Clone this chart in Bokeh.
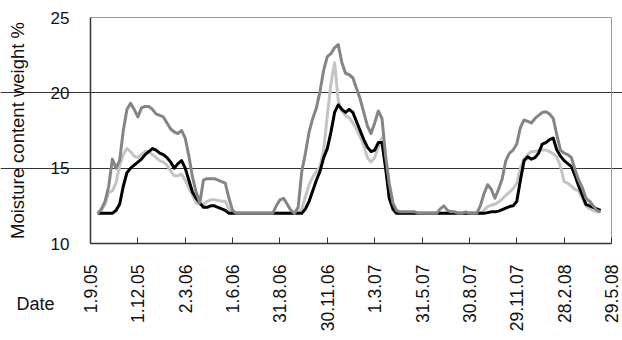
import math

import pandas as pd
from bokeh.embed import file_html
from bokeh.models import FixedTicker, Label
from bokeh.plotting import figure
from bokeh.resources import INLINE

FONT = "Liberation Sans"

# Weekly readings, first one on 15 Sep 2005
first_reading = "2005-09-15"

tick_dates = ["2005-09-01", "2005-12-01", "2006-03-02", "2006-06-01",
              "2006-08-31", "2006-11-30", "2007-03-01", "2007-05-31",
              "2007-08-30", "2007-11-29", "2008-02-28", "2008-05-29"]
tick_labels = ["1.9.05", "1.12.05", "2.3.06", "1.6.06", "31.8.06", "30.11.06",
               "1.3.07", "31.5.07", "30.8.07", "29.11.07", "28.2.08", "29.5.08"]
value_ticks = [10, 15, 20, 25]
grid_values = [15, 20]

series_black = [
    12.0, 12.0, 12.0, 12.0, 12.0, 12.2, 12.6, 13.8, 14.7, 15.0,
    15.2, 15.4, 15.6, 15.9, 16.1, 16.3, 16.2, 16.0, 15.9, 15.7,
    15.4, 15.0, 15.3, 15.5, 15.0, 14.2, 13.4, 13.0, 12.7, 12.4,
    12.4, 12.5, 12.5, 12.4, 12.3, 12.2, 12.0, 12.0, 12.0, 12.0,
    12.0, 12.0, 12.0, 12.0, 12.0, 12.0, 12.0, 12.0, 12.0, 12.0,
    12.0, 12.0, 12.0, 12.0, 12.0, 12.0, 12.0, 12.3, 12.8, 13.5,
    14.2, 14.8, 15.7, 16.3, 17.4, 18.7, 19.2, 18.9, 18.7, 18.9,
    18.7, 18.1, 17.5, 16.9, 16.4, 16.1, 16.2, 16.7, 16.7, 15.0,
    13.0, 12.3, 12.0, 12.0, 12.0, 12.0, 12.0, 12.0, 12.0, 12.0,
    12.0, 12.0, 12.0, 12.0, 12.0, 12.0, 12.0, 12.0, 12.0, 12.0,
    12.0, 12.0, 12.0, 12.0, 12.0, 12.0, 12.0, 12.05, 12.1, 12.1,
    12.15, 12.25, 12.35, 12.45, 12.5, 12.8, 14.2, 15.5, 15.75, 15.6,
    15.7, 16.0, 16.6, 16.7, 16.9, 17.0, 16.2, 15.8, 15.5, 15.3,
    15.1, 14.5, 13.8, 13.2, 12.6, 12.5, 12.4, 12.3, 12.2,
]

series_light = [
    12.0, 12.2, 12.6, 13.4, 13.5, 14.0, 15.2, 15.9, 16.3, 16.1,
    15.8, 15.7, 15.9, 16.1, 16.1, 15.9, 15.7, 15.5, 15.4, 15.2,
    14.8, 14.5, 14.5, 14.6, 14.2, 13.7, 13.2, 12.7, 12.6, 12.6,
    12.8, 12.9, 12.9, 12.85, 12.8, 12.8, 12.3, 12.0, 12.0, 12.0,
    12.0, 12.0, 12.0, 12.0, 12.0, 12.0, 12.0, 12.0, 12.0, 12.0,
    12.0, 12.0, 12.0, 12.0, 12.0, 12.0, 12.3, 13.1, 13.9, 14.4,
    14.8, 15.1, 16.2, 18.5, 20.6, 22.0, 19.5, 18.8, 18.5, 18.35,
    18.0, 17.6, 17.1, 16.5, 15.7, 15.4, 15.7, 16.4, 17.0, 15.2,
    13.1, 12.2, 12.0, 12.0, 12.0, 12.0, 12.0, 12.0, 12.0, 12.0,
    12.0, 12.0, 12.0, 12.0, 12.0, 12.0, 12.0, 12.0, 12.0, 12.0,
    12.0, 12.0, 12.0, 12.0, 12.0, 12.0, 12.2, 12.45, 12.55, 12.6,
    12.75, 12.95, 13.2, 13.4, 13.65, 14.0, 15.0, 15.6, 15.9, 16.1,
    16.1, 16.15, 16.2, 16.2, 16.1, 15.95, 15.75, 15.1, 14.1, 14.0,
    13.8, 13.6, 13.5, 13.0, 12.5, 12.3, 12.2, 12.1, 12.1,
]

series_dark = [
    12.0, 12.3, 12.8, 13.8, 15.6, 15.0, 15.5, 17.5, 18.9, 19.3,
    18.9, 18.4, 19.0, 19.1, 19.1, 18.9, 18.6, 18.5, 18.4, 18.0,
    17.6, 17.4, 17.3, 17.5, 17.0, 15.8, 14.4, 13.4, 12.7, 14.2,
    14.3, 14.3, 14.3, 14.2, 14.1, 14.0, 13.0, 12.2, 12.0, 12.0,
    12.0, 12.0, 12.0, 12.0, 12.0, 12.0, 12.0, 12.0, 12.0, 12.5,
    12.9, 13.0, 12.6, 12.2, 12.0, 12.4, 14.8, 16.0, 17.4, 18.3,
    19.0, 20.1, 21.5, 22.4, 22.6, 23.0, 23.2, 22.0, 21.3, 21.2,
    21.0, 20.3, 19.6, 18.7, 17.8, 17.3, 18.0, 18.8, 18.3, 15.8,
    14.0, 12.7, 12.2, 12.1, 12.1, 12.1, 12.1, 12.1, 12.0, 12.0,
    12.0, 12.0, 12.0, 12.0, 12.3, 12.5, 12.2, 12.1, 12.1, 12.0,
    12.0, 12.1, 12.0, 12.0, 12.0, 12.5, 13.3, 13.9, 13.6, 13.0,
    13.6, 14.3, 15.5, 16.0, 16.2, 16.6, 17.7, 18.2, 18.1, 18.0,
    18.3, 18.5, 18.7, 18.75, 18.6, 18.3, 17.2, 16.2, 16.0, 15.9,
    15.7, 14.9, 14.2, 13.7, 13.0, 12.8, 12.5, 12.2, 12.1,
]

# x positions are days counted from the first axis date
origin = pd.Timestamp(tick_dates[0])
reading_dates = pd.date_range(first_reading, periods=len(series_black), freq="7D")
days = [(d - origin).days for d in reading_dates]
tick_pos = [(pd.Timestamp(d) - origin).days for d in tick_dates]
x_lo, x_hi = tick_pos[0], tick_pos[-1]
y_lo, y_hi = value_ticks[0], value_ticks[-1]

# canvas geometry: the plotting box sits inside a canvas-wide frame so that
# the captions outside the box can be placed with data coordinates too
W, H = 622, 340
BOX_L, BOX_R, BOX_T, BOX_B = 90, 611, 17, 243
dx = (x_hi - x_lo) / (BOX_R - BOX_L)
dy = (y_hi - y_lo) / (BOX_B - BOX_T)


def px_to_x(px):
    return x_lo + (px - BOX_L) * dx


def px_to_y(py):
    return y_lo + (BOX_B - py) * dy


p = figure(
    width=W, height=H,
    x_range=(px_to_x(0), px_to_x(W)), y_range=(px_to_y(H), px_to_y(0)),
    output_backend="svg", toolbar_location=None,
    min_border=0,
)
p.background_fill_color = "white"
p.border_fill_color = "white"
p.outline_line_color = None

# horizontal reference lines at 15 and 20
p.xgrid.visible = False
p.ygrid.ticker = FixedTicker(ticks=grid_values)
p.ygrid.bounds = (x_lo, x_hi)
p.ygrid.grid_line_color = "#333333"
p.ygrid.grid_line_width = 1

# light frame on the top and right of the plotting box
p.line([x_lo, x_hi, x_hi], [y_hi, y_hi, y_lo], line_color="#9a9a9a", line_width=1)

xa = p.xaxis[0]
xa.fixed_location = y_lo
xa.bounds = (x_lo, x_hi)
xa.ticker = FixedTicker(ticks=tick_pos)
xa.major_label_overrides = {pos: lab for pos, lab in zip(tick_pos, tick_labels)}
xa.major_label_orientation = math.pi / 2
xa.major_tick_in = 6
xa.major_tick_out = 0
xa.minor_tick_line_color = None
xa.major_tick_line_color = "#333333"
xa.axis_line_color = "#333333"
xa.axis_line_width = 1.5
xa.major_label_standoff = 21
xa.major_label_text_font = FONT
xa.major_label_text_font_size = "17.5px"
xa.major_label_text_color = "#111111"

ya = p.yaxis[0]
ya.fixed_location = x_lo
ya.bounds = (y_lo, y_hi)
ya.ticker = FixedTicker(ticks=value_ticks)
ya.major_tick_in = 0
ya.major_tick_out = 0
ya.minor_tick_line_color = None
ya.axis_line_color = "#333333"
ya.axis_line_width = 1.5
ya.major_label_standoff = 21
ya.major_label_text_font = FONT
ya.major_label_text_font_size = "17px"
ya.major_label_text_color = "#111111"
ya.axis_label = "Moisture content weight %"
ya.axis_label_text_font = FONT
ya.axis_label_text_font_size = "18.5px"
ya.axis_label_text_font_style = "normal"
ya.axis_label_text_color = "#111111"
ya.axis_label_standoff = 20

# moisture curves
p.line(days, series_light, line_color="#c4c4c4", line_width=3, line_join="round")
p.line(days, series_black, line_color="#000000", line_width=3, line_join="round")
p.line(days, series_dark, line_color="#858585", line_width=3, line_join="round")

# caption beside the date labels
p.add_layout(Label(
    x=px_to_x(16), y=px_to_y(303), text="Date",
    text_font=FONT, text_font_size="18px", text_color="#111111",
    text_align="left", text_baseline="middle",
))

open("out.html", "w").write(file_html(p, INLINE))
